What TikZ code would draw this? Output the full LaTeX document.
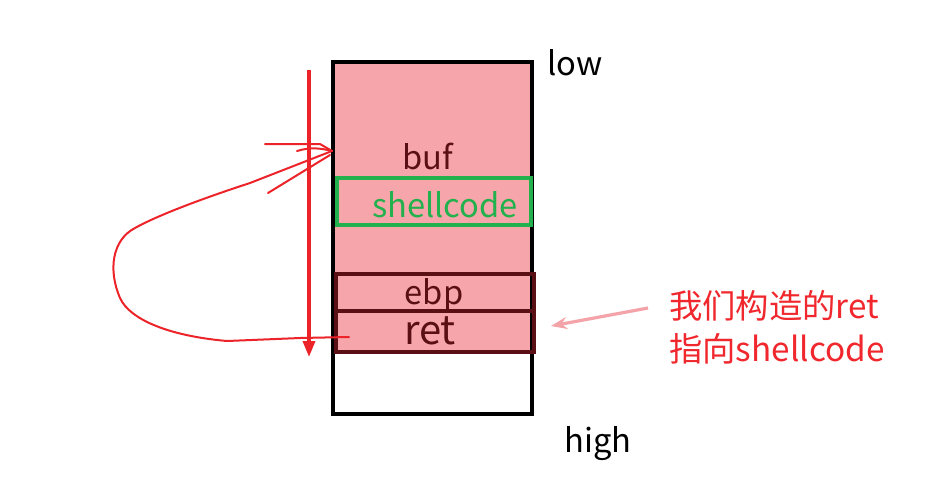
\documentclass[tikz,border=0pt]{standalone}
\usepackage{fontspec}
\setmainfont{Noto Sans CJK SC}
\usetikzlibrary{fit,arrows.meta}
\definecolor{pinkfill}{HTML}{F6A6AA}
\definecolor{gbox}{HTML}{22B14C}
\definecolor{dred}{HTML}{5A0F14}
\definecolor{hred}{HTML}{EC2329}
\definecolor{tred}{HTML}{F0282D}
\definecolor{parrow}{HTML}{F4A3A8}
\tikzset{
  px/.style={x=0.75pt,y=-0.75pt},
  cell/.style={inner sep=0pt, draw=dred, line width=2.8pt},
  lbl/.style={text=dred, inner sep=0pt},
  big/.style={font=\fontsize{24.5}{28}\selectfont},
  hand/.style={draw=hred, line width=1.5pt, line cap=round, line join=round},
}
\begin{document}
\begin{tikzpicture}[px]
\useasboundingbox (0,0) rectangle (932,487);
% pink filled region
\fill[pinkfill] (333,62) rectangle (532,352);
% outer stack
\node[fit={(333,62) (532,414)}, inner sep=0pt, draw=black, line width=2.8pt] (stack) {};
% shellcode box
\node[fit={(337,178) (531,225)}, inner sep=0pt, draw=gbox, line width=2.6pt] (sc) {};
% ebp and ret boxes
\node[cell, fit={(336,274) (534,311)}] (ebpbox) {};
\node[cell, fit={(336,311) (534,352)}] (retbox) {};
% labels
\node[lbl, big] (buf) at (428,156) {buf};
\node[inner sep=0pt, text=gbox, big] (sclbl) at (445,205) {shellcode};
\node[lbl, big] (ebp) at (434,295) {ebp};
\node[lbl, font=\fontsize{30}{34}\selectfont] (ret) at (430,331) {ret};
\node[inner sep=0pt, big] (low) at (575,63) {low};
\node[inner sep=0pt, big] (high) at (598,444) {high};
% note
\node[inner sep=0pt, text=tred, align=left, anchor=west, font=\fontsize{25}{32.5}\selectfont] (note) at (669,327) {我们构造的ret\\指向shellcode};
% pink arrow
\coordinate (pa) at (648,308);
\coordinate (pb) at (551,326);
\draw[parrow, line width=2.4pt, -{Stealth[length=12pt,width=9pt]}] (pa) -- (pb);
% red vertical arrow
\coordinate (va) at (309,70);
\coordinate (vb) at (309,357);
\draw[hred, line width=2.6pt, -{Triangle[length=12pt,width=9pt]}] (va) -- (vb);
% hand-drawn curve from ret back to buf
\coordinate (c0) at (349,337);
\coordinate (c9) at (332,151);
\draw[hand] (c0) -- (300,338) -- (227,341)
  .. controls (170,336) and (130,320) .. (120,298)
  .. controls (108,270) and (112,240) .. (135,228)
  .. controls (160,214) and (210,196) .. (250,183) -- (c9);
% scribbled arrowhead
\draw[hand] (265,144) -- (320,144) -- (c9);
\draw[hand] (297,151) .. controls (310,147) and (320,148) .. (c9);
\draw[hand] (268,193) -- (330,155);
\end{tikzpicture}
\end{document}
